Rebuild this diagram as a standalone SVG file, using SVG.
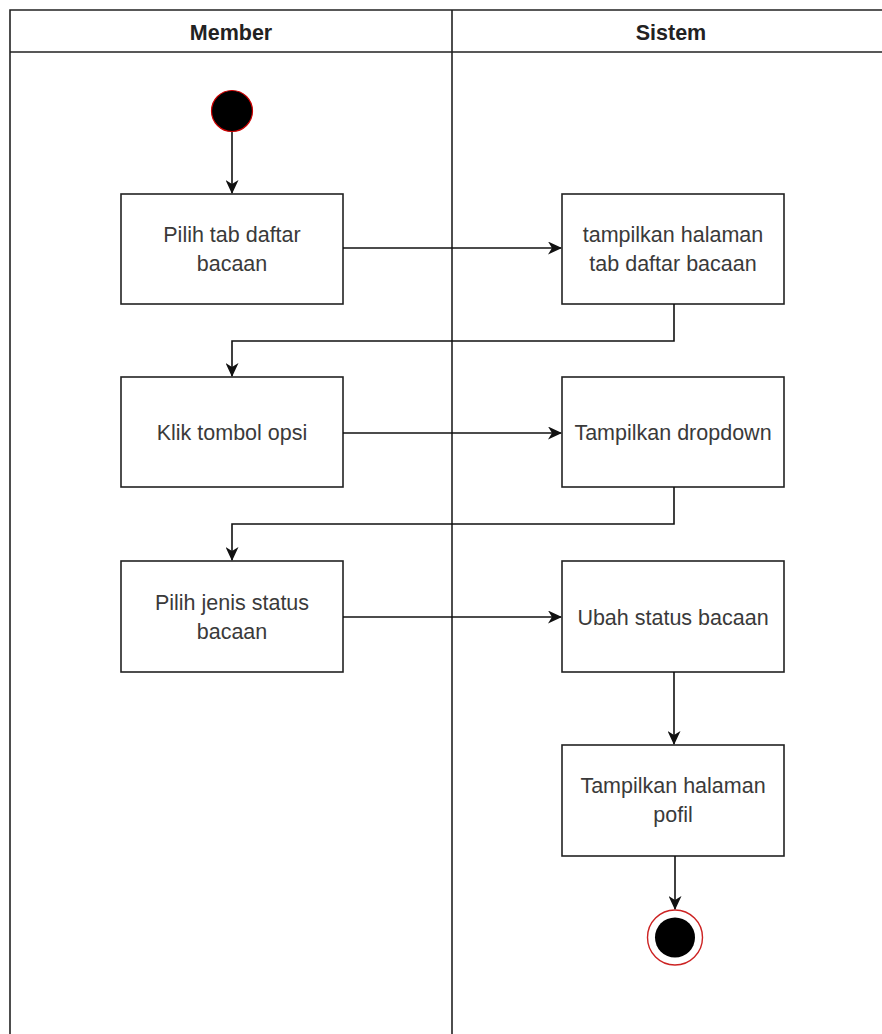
<svg xmlns="http://www.w3.org/2000/svg" width="882" height="1034" viewBox="0 0 882 1034">
<defs>
<marker id="arrow" viewBox="0 0 14 13" refX="13" refY="6.5" markerWidth="14" markerHeight="13" markerUnits="userSpaceOnUse" orient="auto">
<path d="M0,0 L14,6.5 L0,13 L4,6.5 z" fill="#111"/>
</marker>
</defs>
<style>
.lane{fill:none;stroke:#222;stroke-width:1.6}
.hdr{font-family:"Liberation Sans",Arial,sans-serif;font-size:21.5px;font-weight:bold;fill:#222;text-anchor:middle}
.box rect{fill:#fff;stroke:#222;stroke-width:1.6}
.box text{font-family:"Liberation Sans",Arial,sans-serif;font-size:21.5px;fill:#3a3a3a;text-anchor:middle}
.conn path{fill:none;stroke:#111;stroke-width:1.6;marker-end:url(#arrow)}
</style>
<rect width="882" height="1034" fill="#fff"/>
<g id="lanes">
<path class="lane" d="M10,1040 L10,10 L890,10 M10,52 L890,52 M452,10 L452,1040"/>
<text class="hdr" x="231" y="40">Member</text>
<text class="hdr" x="671" y="40">Sistem</text>
</g>
<g id="start">
<circle cx="232" cy="111" r="20.5" fill="#000" stroke="#cc0000" stroke-width="1.2"/>
</g>
<g id="n1" class="box">
<rect x="121" y="194" width="222" height="110"/>
<text x="232" y="242">Pilih tab daftar</text>
<text x="232" y="271">bacaan</text>
</g>
<g id="n2" class="box">
<rect x="562" y="194" width="222" height="110"/>
<text x="673" y="242">tampilkan halaman</text>
<text x="673" y="271">tab daftar bacaan</text>
</g>
<g id="n3" class="box">
<rect x="121" y="377" width="222" height="110"/>
<text x="232" y="440">Klik tombol opsi</text>
</g>
<g id="n4" class="box">
<rect x="562" y="377" width="222" height="110"/>
<text x="673" y="440">Tampilkan dropdown</text>
</g>
<g id="n5" class="box">
<rect x="121" y="561" width="222" height="111"/>
<text x="232" y="610">Pilih jenis status</text>
<text x="232" y="639">bacaan</text>
</g>
<g id="n6" class="box">
<rect x="562" y="561" width="222" height="111"/>
<text x="673" y="625">Ubah status bacaan</text>
</g>
<g id="n7" class="box">
<rect x="562" y="745" width="222" height="111"/>
<text x="673" y="793">Tampilkan halaman</text>
<text x="673" y="822">pofil</text>
</g>
<g id="end">
<circle cx="675" cy="937.5" r="27.5" fill="#fff" stroke="#cc2222" stroke-width="1.4"/>
<circle cx="675" cy="937.5" r="20" fill="#000"/>
</g>
<g id="connectors" class="conn">
<path d="M232,132 L232,193"/>
<path d="M343,248 L561,248"/>
<path d="M674,304 L674,341 L232,341 L232,376"/>
<path d="M343,433 L561,433"/>
<path d="M674,487 L674,524 L232,524 L232,560"/>
<path d="M343,617 L561,617"/>
<path d="M674,672 L674,744"/>
<path d="M675,856 L675,909"/>
</g>
</svg>
